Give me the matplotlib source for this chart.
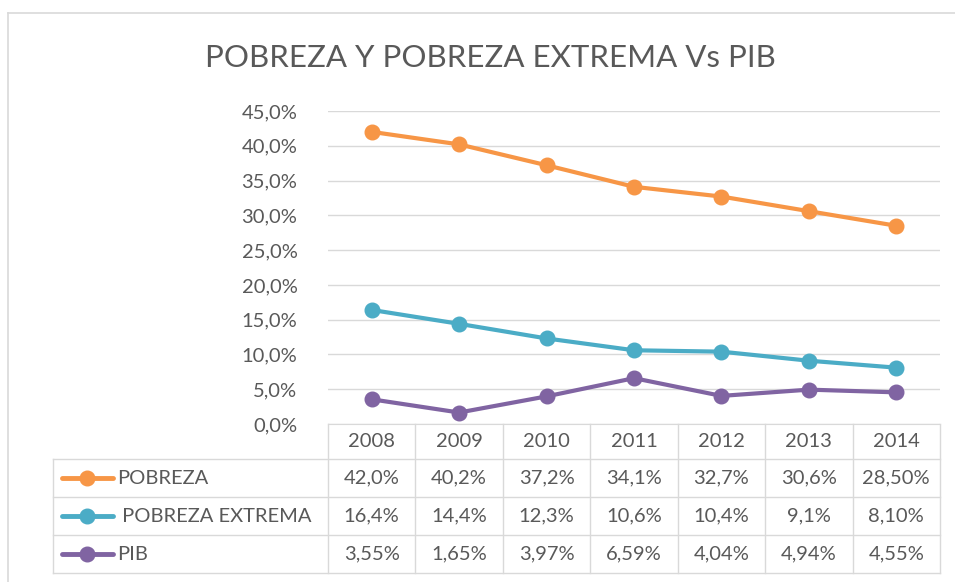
import matplotlib
matplotlib.use("Agg")
import matplotlib.pyplot as plt
from matplotlib.lines import Line2D
from matplotlib.ticker import FuncFormatter

years = ["2008", "2009", "2010", "2011", "2012", "2013", "2014"]
series_names = ["POBREZA", " POBREZA EXTREMA", "PIB"]
pobreza = [42.0, 40.2, 37.2, 34.1, 32.7, 30.6, 28.5]
pobreza_extrema = [16.4, 14.4, 12.3, 10.6, 10.4, 9.1, 8.1]
pib = [3.55, 1.65, 3.97, 6.59, 4.04, 4.94, 4.55]
pobreza_labels = ["42,0%", "40,2%", "37,2%", "34,1%", "32,7%", "30,6%", "28,50%"]
pobreza_extrema_labels = ["16,4%", "14,4%", "12,3%", "10,6%", "10,4%", "9,1%", "8,10%"]
pib_labels = ["3,55%", "1,65%", "3,97%", "6,59%", "4,04%", "4,94%", "4,55%"]
yticks = [0, 5, 10, 15, 20, 25, 30, 35, 40, 45]

colors = ["#F79646", "#4BACC6", "#8064A2"]
txt = "#595959"
grid = "#D9D9D9"
font = "Lato"
fs = 14.5

W, H = 955, 582
fig = plt.figure(figsize=(W / 100, H / 100), dpi=100)
plt.rcParams["font.family"] = [font, "DejaVu Sans"]

def fx(px):
    return px / W

def fy(py):
    return 1 - py / H

x_left, x_right = 328, 940
y_bot, y_top = 424, 111
ax = fig.add_axes([fx(x_left), fy(y_bot), fx(x_right) - fx(x_left), fy(y_top) - fy(y_bot)])
n = len(years)
xs = list(range(n))
ax.set_xlim(-0.5, n - 0.5)
ax.set_ylim(0, 45)
ax.set_yticks(yticks)
ax.yaxis.set_major_formatter(FuncFormatter(lambda v, p: f"{v:.1f}".replace(".", ",") + "%"))
ax.tick_params(axis="y", length=0, labelsize=fs, labelcolor=txt, pad=22)
ax.set_xticks([])
ax.grid(axis="y", color=grid, linewidth=1)
ax.set_axisbelow(True)
for s in ["top", "right", "left"]:
    ax.spines[s].set_visible(False)
ax.spines["bottom"].set_color(grid)

all_series = [pobreza, pobreza_extrema, pib]
all_labels = [pobreza_labels, pobreza_extrema_labels, pib_labels]
for vals, c in zip(all_series, colors):
    ax.plot(xs, vals, color=c, linewidth=3, marker="o", markersize=10.5,
            solid_capstyle="round", zorder=3)

# title
fig.text(fx(490), fy(58), "POBREZA Y POBREZA EXTREMA Vs PIB", ha="center", va="center",
         fontsize=22.5, color=txt)

# chart border
fig.add_artist(Line2D([fx(8), fx(955)], [fy(13), fy(13)], color=grid, linewidth=1.2))
fig.add_artist(Line2D([fx(8), fx(8)], [fy(13), fy(582)], color=grid, linewidth=1.2))

# data table
rows_y = [424, 459, 497, 535, 573]
table_left = 53
fig.canvas.draw()
col_edges = [ax.transData.transform((i - 0.5, 0))[0] / fig.dpi / fig.get_size_inches()[0] for i in range(n + 1)]
for ry in rows_y[1:]:
    fig.add_artist(Line2D([fx(table_left), col_edges[-1]], [fy(ry), fy(ry)], color=grid, linewidth=1))
for ce in col_edges:
    fig.add_artist(Line2D([ce, ce], [fy(rows_y[0]), fy(rows_y[-1])], color=grid, linewidth=1))
fig.add_artist(Line2D([fx(table_left), fx(table_left)], [fy(rows_y[1]), fy(rows_y[-1])], color=grid, linewidth=1))

for i, y in enumerate(years):
    cx = (col_edges[i] + col_edges[i + 1]) / 2
    fig.text(cx, fy((rows_y[0] + rows_y[1]) / 2), y, ha="center", va="center", fontsize=fs, color=txt)

for r, (name, labels, c) in enumerate(zip(series_names, all_labels, colors)):
    cy = fy((rows_y[r + 1] + rows_y[r + 2]) / 2)
    fig.add_artist(Line2D([fx(62), fx(113)], [cy, cy], color=c, linewidth=3.5, solid_capstyle="round"))
    fig.add_artist(Line2D([fx(87)], [cy], color=c, marker="o", markersize=10.5))
    fig.text(fx(117), cy, name, ha="left", va="center", fontsize=fs, color=txt)
    for i, lab in enumerate(labels):
        cx = (col_edges[i] + col_edges[i + 1]) / 2
        fig.text(cx, cy, lab, ha="center", va="center", fontsize=fs, color=txt)

fig.savefig("out.png", dpi=100)
